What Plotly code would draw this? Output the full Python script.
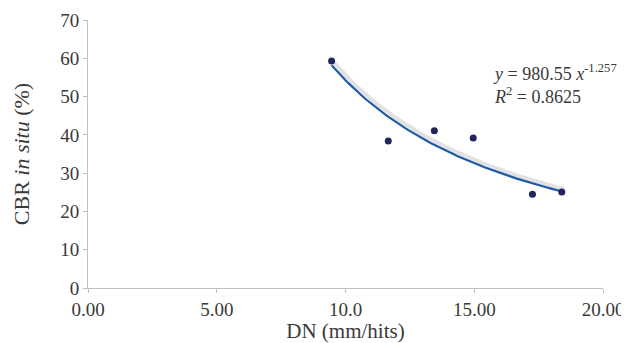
import numpy as np
import plotly.graph_objects as go

dn = [9.46, 11.66, 13.45, 14.96, 17.26, 18.40]
cbr = [59.3, 38.4, 41.1, 39.2, 24.5, 25.1]
fit_a = 980.55
fit_b = -1.257
r2 = 0.8625
x_ticks = [0, 5, 10, 15, 20]
x_tick_labels = ["0.00", "5.00", "10.0", "15.00", "20.00"]
y_ticks = [0, 10, 20, 30, 40, 50, 60, 70]

xf = np.linspace(min(dn), max(dn), 100)
yf = fit_a * xf ** fit_b

fig = go.Figure()
# shadow of the trendline
fig.add_trace(go.Scatter(x=xf + 0.1, y=yf + 0.6, mode="lines",
                         line=dict(color="rgba(190,190,190,0.45)", width=4),
                         hoverinfo="skip", showlegend=False))
fig.add_trace(go.Scatter(x=xf, y=yf, mode="lines",
                         line=dict(color="#1f5aa6", width=2.2),
                         showlegend=False))
fig.add_trace(go.Scatter(x=dn, y=cbr, mode="markers",
                         marker=dict(color="#23235e", size=7),
                         showlegend=False))

font_fam = "Liberation Serif"
axis_common = dict(showgrid=False, zeroline=False, showline=True,
                   linecolor="#c0c0c0", linewidth=1, ticks="outside",
                   ticklen=4, tickcolor="#c0c0c0", automargin=False,
                   tickfont=dict(family=font_fam, size=19, color="#3a3a3a"))

# page body adds an 8px offset, so the figure is sized to fit the window
fig.update_layout(
    width=621, height=335,
    margin=dict(l=80, r=26, t=12, b=55),
    plot_bgcolor="white", paper_bgcolor="white",
    font=dict(family=font_fam, color="#3a3a3a"),
    xaxis=dict(range=[0, 20], tickvals=x_ticks, ticktext=x_tick_labels,
               title=dict(text="DN (mm/hits)", standoff=8,
                          font=dict(family=font_fam, size=21, color="#3a3a3a")),
               **axis_common),
    yaxis=dict(range=[0, 70], tickvals=y_ticks,
               title=dict(text="CBR <i>in situ</i> (%)", standoff=24,
                          font=dict(family=font_fam, size=22, color="#3a3a3a")),
               **axis_common),
    annotations=[dict(
        xref="paper", yref="paper", x=0.783, y=0.855,
        xanchor="left", yanchor="top", align="left", showarrow=False,
        text=(f"<i>y</i> = {fit_a:.2f} <i>x</i><sup>{fit_b}</sup><br>"
              f"<i>R</i><sup>2</sup> = {r2}"),
        font=dict(family=font_fam, size=18, color="#3a3a3a"))],
)

fig.write_html("out.html")
